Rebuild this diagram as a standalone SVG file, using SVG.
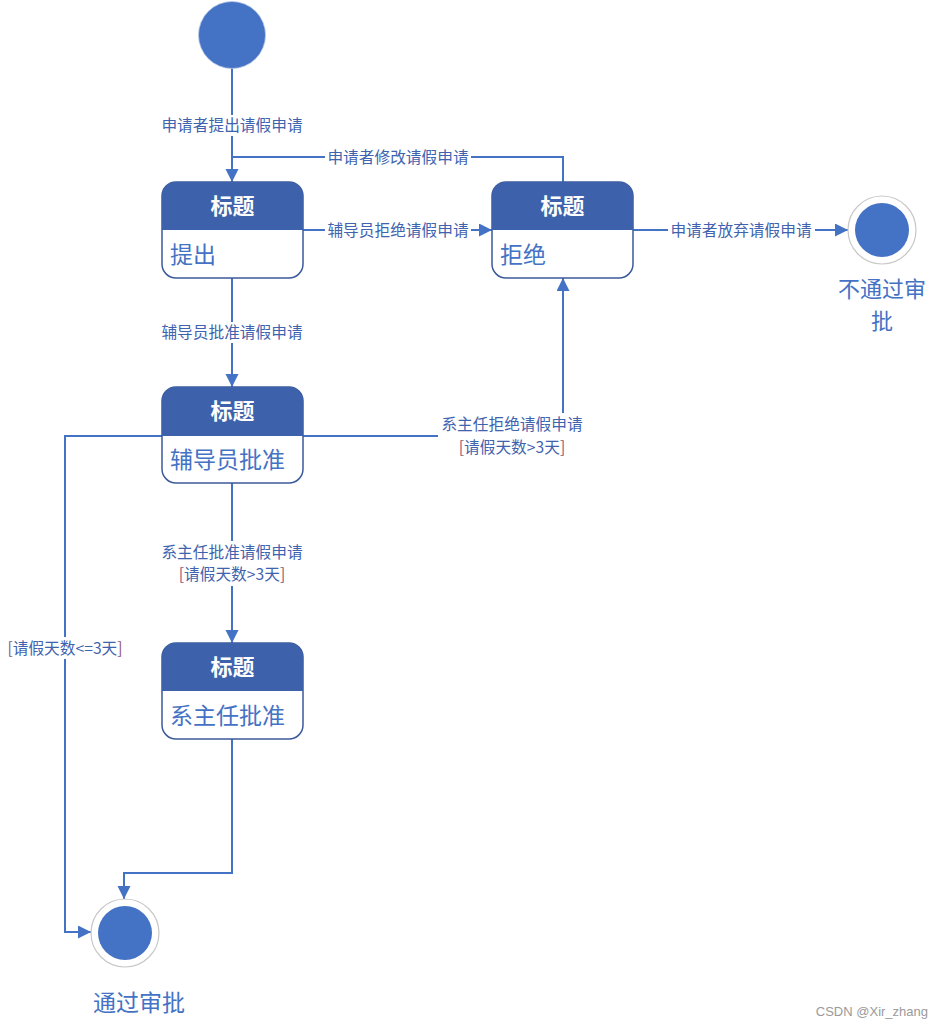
<svg xmlns="http://www.w3.org/2000/svg" width="943" height="1028" viewBox="0 0 943 1028">
<style>
.cn{fill:none;stroke:#4472C4;stroke-width:2}
.lbl{font-family:"Noto Sans CJK SC","Microsoft YaHei",sans-serif;font-size:15.7px;fill:#3F63AE;text-anchor:middle}
.br{fill:#8A5577}
.bg{fill:#ffffff}
.box{fill:#ffffff;stroke:#3C5A9A;stroke-width:1.5}
.hdr{fill:#3D62AB}
.ttl{font-family:"Noto Sans CJK SC","Microsoft YaHei",sans-serif;font-size:22px;font-weight:bold;fill:#ffffff;text-anchor:middle}
.body{font-family:"Noto Sans CJK SC","Microsoft YaHei",sans-serif;font-size:23px;fill:#4472C4}
.nm{font-family:"Noto Sans CJK SC","Microsoft YaHei",sans-serif;font-size:23px;fill:#4472C4;text-anchor:middle}
.nm2{font-family:"Noto Sans CJK SC","Microsoft YaHei",sans-serif;font-size:22px;fill:#4472C4;text-anchor:middle}
.dot{fill:#4472C4}
.ring{fill:#ffffff;stroke:#C8C8C8;stroke-width:1.2}
</style>
<defs>
<marker id="ah" markerUnits="userSpaceOnUse" markerWidth="14" markerHeight="14" refX="13" refY="6.5" orient="auto">
<path d="M0,0 L13,6.5 L0,13 Z" fill="#4472C4"/>
</marker>
</defs>
<rect width="943" height="1028" fill="#ffffff"/>

<g id="connectors">
<path class="cn" d="M232 68 V182" marker-end="url(#ah)"/>
<path class="cn" d="M563 182 V157 H232"/>
<path class="cn" d="M303 230 H492" marker-end="url(#ah)"/>
<path class="cn" d="M633 230 H848" marker-end="url(#ah)"/>
<path class="cn" d="M232 278 V387" marker-end="url(#ah)"/>
<path class="cn" d="M303 436 H563 V278" marker-end="url(#ah)"/>
<path class="cn" d="M232 483 V643" marker-end="url(#ah)"/>
<path class="cn" d="M162 436 H65 V932 H91" marker-end="url(#ah)"/>
<path class="cn" d="M232 739 V873 H124 V899" marker-end="url(#ah)"/>

<rect class="bg" x="159" y="115" width="146" height="21"/>
<text class="lbl" x="232" y="131">申请者提出请假申请</text>
<rect class="bg" x="325" y="147" width="146" height="21"/>
<text class="lbl" x="398" y="163">申请者修改请假申请</text>
<rect class="bg" x="325" y="220" width="146" height="21"/>
<text class="lbl" x="398" y="236">辅导员拒绝请假申请</text>
<rect class="bg" x="668" y="220" width="147" height="21"/>
<text class="lbl" x="741" y="236">申请者放弃请假申请</text>
<rect class="bg" x="159" y="322" width="146" height="21"/>
<text class="lbl" x="232" y="338">辅导员批准请假申请</text>
<rect class="bg" x="438" y="413" width="149" height="45"/>
<text class="lbl" x="512" y="430">系主任拒绝请假申请</text>
<text class="lbl" x="512" y="453"><tspan class="br">[</tspan>请假天数&gt;3天<tspan class="br">]</tspan></text>
<rect class="bg" x="159" y="541" width="146" height="45"/>
<text class="lbl" x="232" y="558">系主任批准请假申请</text>
<text class="lbl" x="232" y="580"><tspan class="br">[</tspan>请假天数&gt;3天<tspan class="br">]</tspan></text>
<rect class="bg" x="7" y="637" width="116" height="22"/>
<text class="lbl" x="65" y="654"><tspan class="br">[</tspan>请假天数&lt;=3天<tspan class="br">]</tspan></text>
</g>

<g id="start">
<circle class="dot" cx="232" cy="35" r="33.5" stroke="#B8C6E6" stroke-width="0.8"/>
</g>

<g id="state-tichu" transform="translate(162,182)">
<rect class="box" x="0" y="0" width="141" height="96" rx="14"/>
<path class="hdr" d="M0,48 V14 A14,14 0 0 1 14,0 H127 A14,14 0 0 1 141,14 V48 Z"/>
<text class="ttl" x="70.5" y="32">标题</text>
<text class="body" x="8" y="81">提出</text>
</g>

<g id="state-jujue" transform="translate(492,182)">
<rect class="box" x="0" y="0" width="141" height="96" rx="14"/>
<path class="hdr" d="M0,48 V14 A14,14 0 0 1 14,0 H127 A14,14 0 0 1 141,14 V48 Z"/>
<text class="ttl" x="70.5" y="32">标题</text>
<text class="body" x="8" y="81">拒绝</text>
</g>

<g id="state-fudaoyuan" transform="translate(162,387)">
<rect class="box" x="0" y="0" width="141" height="96" rx="14"/>
<path class="hdr" d="M0,49 V14 A14,14 0 0 1 14,0 H127 A14,14 0 0 1 141,14 V49 Z"/>
<text class="ttl" x="70.5" y="32">标题</text>
<text class="body" x="8" y="81">辅导员批准</text>
</g>

<g id="state-xizhuren" transform="translate(162,643)">
<rect class="box" x="0" y="0" width="141" height="96" rx="14"/>
<path class="hdr" d="M0,48 V14 A14,14 0 0 1 14,0 H127 A14,14 0 0 1 141,14 V48 Z"/>
<text class="ttl" x="70.5" y="32">标题</text>
<text class="body" x="8" y="81">系主任批准</text>
</g>

<g id="end-reject">
<circle class="ring" cx="882" cy="230" r="34"/>
<circle class="dot" cx="882" cy="230" r="27"/>
<text class="nm2" x="882" y="297">不通过审</text>
<text class="nm2" x="882" y="329">批</text>
</g>

<g id="end-approve">
<circle class="ring" cx="125" cy="933" r="34"/>
<circle class="dot" cx="125" cy="933" r="27"/>
<text class="nm" x="139" y="1011">通过审批</text>
</g>

<text x="928" y="1016" font-family="Liberation Sans, Arial, sans-serif" font-size="13" fill="#9a9a9a" text-anchor="end">CSDN @Xir_zhang</text>
</svg>
